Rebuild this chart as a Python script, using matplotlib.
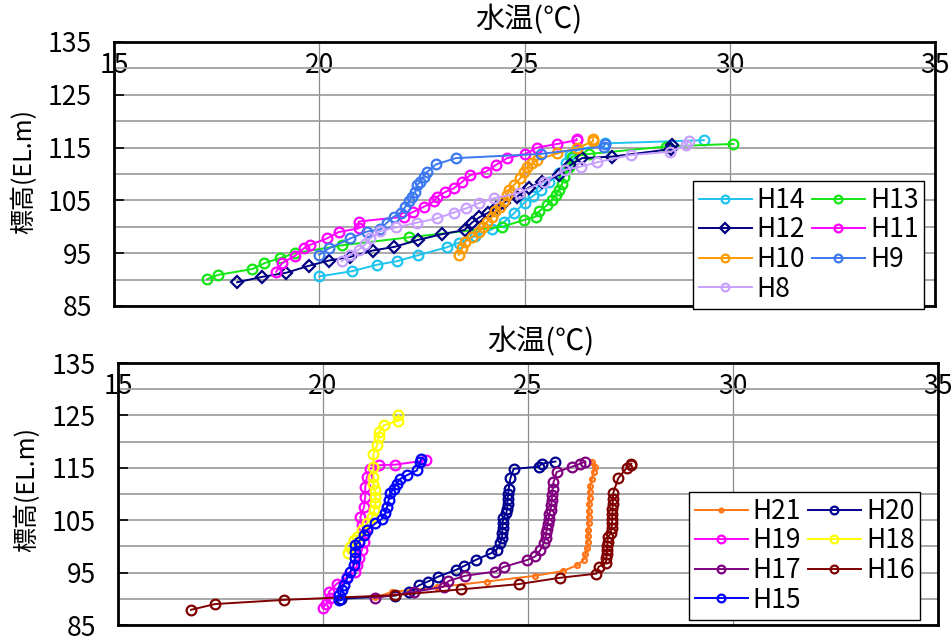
import matplotlib
matplotlib.use("Agg")
import matplotlib.pyplot as plt
from matplotlib.ticker import MultipleLocator, FixedLocator

plt.rcParams['font.family'] = ['Noto Sans CJK JP', 'DejaVu Sans']

# ---------------- data (temperature, elevation) ----------------
# upper chart
H14_t = [20.0, 20.8, 21.4, 21.9, 22.4, 23.1, 23.4, 23.8, 24.2, 24.5, 24.75, 25.0, 25.2, 25.4, 25.6, 25.85, 26.0, 26.12, 26.28, 26.97, 29.37]
H14_e = [90.6, 91.6, 92.8, 93.5, 94.6, 96.1, 97.0, 98.2, 99.5, 100.9, 102.6, 104.6, 105.8, 107.0, 108.5, 110.1, 112.0, 113.6, 114.5, 115.8, 116.4]

H13_t = [17.27, 17.54, 18.37, 18.66, 19.05, 19.41, 20.55, 22.18, 24.46, 24.99, 25.27, 25.35, 25.55, 25.68, 25.76, 25.84, 25.92, 25.96, 26.08, 26.16, 26.57, 28.44, 30.09]
H13_e = [90.1, 90.9, 92.0, 93.1, 94.1, 95.0, 96.5, 98.0, 100.0, 101.3, 101.9, 102.9, 104.1, 105.1, 106.0, 107.0, 108.2, 109.5, 111.4, 113.3, 113.8, 115.2, 115.7]

H12_t = [18.0, 18.6, 19.2, 19.74, 20.23, 20.76, 21.3, 21.83, 22.4, 22.99, 23.54, 23.72, 23.9, 24.1, 24.3, 24.5, 24.82, 25.1, 25.43, 25.84, 26.12, 26.4, 27.14, 28.56, 28.6]
H12_e = [89.5, 90.5, 91.3, 92.6, 93.6, 94.3, 95.5, 96.2, 97.5, 98.6, 99.4, 100.8, 101.8, 102.6, 103.6, 104.6, 105.7, 107.4, 108.5, 109.8, 111.7, 113.0, 113.3, 114.7, 115.4]

H11_t = [18.95, 19.09, 19.41, 19.62, 19.78, 20.19, 20.47, 20.96, 20.96, 22.06, 22.28, 22.55, 22.79, 22.87, 23.07, 23.28, 23.48, 23.68, 24.05, 24.3, 24.58, 25.02, 25.3, 25.8, 26.27, 26.27]
H11_e = [91.5, 93.1, 94.5, 95.9, 96.6, 97.8, 99.0, 99.7, 101.0, 101.9, 102.8, 103.8, 104.8, 105.7, 106.6, 107.3, 108.5, 109.8, 110.4, 111.7, 113.0, 113.8, 115.0, 115.7, 116.4, 116.6]

H10_t = [23.4, 23.48, 23.56, 23.72, 23.88, 24.0, 24.09, 24.21, 24.29, 24.41, 24.5, 24.58, 24.62, 24.74, 24.9, 24.98, 25.07, 25.19, 25.31, 25.8, 26.28, 26.67, 26.67]
H10_e = [94.7, 95.9, 97.2, 98.1, 99.1, 100.0, 101.0, 101.9, 102.9, 103.8, 104.8, 106.0, 107.0, 107.9, 109.2, 110.4, 111.4, 112.0, 112.7, 113.9, 114.9, 116.2, 116.6]

H9_t = [20.0, 20.23, 20.76, 21.16, 21.49, 21.65, 21.81, 21.98, 22.1, 22.18, 22.26, 22.34, 22.38, 22.46, 22.54, 22.63, 22.84, 23.32, 25.39, 26.93, 26.97]
H9_e = [94.7, 95.9, 97.8, 99.1, 99.5, 100.8, 101.9, 102.7, 103.8, 104.8, 105.7, 106.6, 107.9, 108.5, 109.5, 110.4, 111.8, 113.0, 113.8, 115.2, 115.7]

H8_t = [20.55, 20.76, 20.96, 21.12, 21.24, 21.49, 21.88, 22.39, 22.87, 23.28, 23.58, 23.89, 24.25, 24.86, 25.47, 25.99, 26.37, 26.76, 27.59, 28.55, 28.93, 29.0]
H8_e = [93.5, 94.7, 95.7, 96.7, 97.8, 99.2, 99.9, 100.8, 101.6, 102.7, 103.5, 104.5, 105.4, 106.4, 108.5, 110.8, 111.4, 112.2, 113.6, 114.2, 115.5, 116.3]

# lower chart
H21_t = [21.28, 21.68, 22.78, 24.0, 25.18, 25.85, 26.2, 26.36, 26.4, 26.45, 26.46, 26.47, 26.47, 26.48, 26.48, 26.48, 26.49, 26.5, 26.5, 26.52, 26.56, 26.6, 26.64, 26.56]
H21_e = [90.3, 91.3, 92.2, 93.3, 94.4, 95.3, 96.4, 97.5, 98.5, 99.6, 100.8, 102.0, 103.2, 104.4, 105.6, 106.8, 108.0, 109.2, 110.4, 111.6, 112.9, 114.2, 115.2, 116.1]

H20_t = [20.45, 21.76, 22.09, 22.35, 22.56, 22.8, 23.24, 23.45, 23.72, 24.1, 24.24, 24.32, 24.37, 24.37, 24.38, 24.38, 24.4, 24.47, 24.49, 24.5, 24.5, 24.52, 24.53, 24.57, 24.65, 25.26, 25.34, 25.67]
H20_e = [90.0, 90.6, 91.3, 92.6, 93.3, 94.2, 95.5, 96.3, 97.4, 98.7, 99.4, 100.6, 101.6, 102.6, 103.6, 104.5, 105.4, 106.3, 107.2, 108.1, 109.0, 110.0, 111.0, 113.0, 114.8, 115.2, 115.8, 116.2]

H19_t = [20.0, 20.08, 20.18, 20.14, 20.34, 20.59, 20.79, 20.83, 20.87, 20.95, 21.0, 21.03, 20.95, 20.91, 21.0, 21.03, 21.03, 21.07, 21.15, 21.36, 21.76, 22.5]
H19_e = [88.2, 89.1, 90.1, 91.3, 92.9, 94.2, 95.2, 96.4, 97.7, 99.3, 100.9, 102.5, 104.0, 105.6, 107.5, 109.4, 111.3, 113.2, 114.8, 115.5, 115.6, 116.4]

H18_t = [20.62, 20.67, 20.75, 20.83, 20.95, 21.07, 21.2, 21.25, 21.28, 21.28, 21.26, 21.23, 21.23, 21.23, 21.23, 21.32, 21.36, 21.36, 21.48, 21.84, 21.84]
H18_e = [98.7, 99.9, 101.2, 101.8, 103.1, 104.4, 105.6, 106.9, 108.2, 109.5, 110.7, 112.0, 113.2, 115.2, 117.7, 119.3, 120.9, 121.8, 123.1, 124.0, 125.0]

H17_t = [21.26, 22.21, 22.94, 23.06, 23.47, 24.2, 24.41, 24.98, 25.18, 25.3, 25.38, 25.43, 25.44, 25.46, 25.48, 25.5, 25.52, 25.55, 25.57, 25.58, 25.59, 25.6, 25.62, 25.7, 26.07, 26.28, 26.4]
H17_e = [90.2, 91.3, 92.3, 93.4, 94.4, 95.2, 96.1, 97.4, 98.1, 99.3, 100.6, 101.6, 102.5, 103.4, 104.3, 105.2, 106.1, 107.0, 107.9, 108.9, 109.9, 111.0, 112.2, 114.2, 115.2, 115.8, 116.2]

H16_t = [16.78, 17.37, 19.06, 21.76, 23.37, 24.77, 25.77, 26.67, 26.72, 26.9, 26.91, 26.92, 26.92, 26.93, 26.94, 26.95, 27.02, 27.04, 27.05, 27.05, 27.06, 27.06, 27.07, 27.07, 27.08, 27.2, 27.41, 27.5, 27.52]
H16_e = [87.9, 89.0, 89.8, 90.7, 91.8, 92.8, 94.0, 94.8, 96.1, 96.9, 97.7, 98.5, 99.3, 100.1, 100.9, 101.7, 102.6, 103.5, 104.4, 105.3, 106.2, 107.1, 108.0, 109.1, 110.2, 113.0, 115.0, 115.5, 115.8]

H15_t = [20.38, 20.4, 20.46, 20.5, 20.59, 20.67, 20.75, 20.79, 20.79, 20.79, 20.87, 20.99, 21.07, 21.28, 21.44, 21.52, 21.56, 21.6, 21.64, 21.72, 21.8, 21.89, 22.05, 22.29, 22.37, 22.39]
H15_e = [89.8, 90.7, 91.7, 92.6, 93.9, 95.2, 96.4, 97.7, 99.0, 100.2, 100.9, 102.1, 103.1, 104.4, 105.3, 106.3, 107.5, 108.8, 110.1, 111.0, 112.0, 112.9, 113.6, 114.5, 116.1, 116.6]

X_TICKS = [15, 20, 25, 30, 35]
Y_TICKS = [85, 95, 105, 115, 125, 135]

top_series = [
    ("H14", H14_t, H14_e, "#1EC3F0", "o", 7),
    ("H13", H13_t, H13_e, "#14E614", "o", 7),
    ("H12", H12_t, H12_e, "#000080", "D", 6),
    ("H11", H11_t, H11_e, "#FF00FF", "o", 7),
    ("H10", H10_t, H10_e, "#FF9A00", "o", 7),
    ("H9", H9_t, H9_e, "#3C78F0", "o", 7),
    ("H8", H8_t, H8_e, "#C8A0FF", "o", 7),
]
bottom_series = [
    ("H21", H21_t, H21_e, "#FF7518", "o", 3.5),
    ("H20", H20_t, H20_e, "#000090", "o", 7),
    ("H19", H19_t, H19_e, "#FF00FF", "o", 7),
    ("H18", H18_t, H18_e, "#FFFF00", "o", 7),
    ("H17", H17_t, H17_e, "#800080", "o", 7),
    ("H16", H16_t, H16_e, "#800000", "o", 7),
    ("H15", H15_t, H15_e, "#0000FF", "o", 7),
]

W, H = 953, 642
fig = plt.figure(figsize=(W / 100, H / 100), dpi=100)

def px_axes(l, t, r, b):
    return fig.add_axes([l / W, 1 - b / H, (r - l) / W, (b - t) / H])

def style(ax, series, legend_corner):
    handles = {}
    for name, t, e, c, m, ms in series:
        ln, = ax.plot(t, e, color=c, lw=1.4, marker=m, ms=ms, mfc='none',
                      mec=c, mew=1.6, label=name, zorder=3)
        handles[name] = ln
    ax.set_xlim(15, 35)
    ax.set_ylim(85, 135)
    ax.xaxis.set_major_locator(FixedLocator(X_TICKS))
    ax.yaxis.set_major_locator(FixedLocator(Y_TICKS))
    ax.yaxis.set_minor_locator(MultipleLocator(5))
    ax.xaxis.tick_top()
    ax.tick_params(axis='x', which='both', length=0, pad=-27, labelsize=19)
    ax.tick_params(axis='y', which='major', direction='in', length=7, width=1.2,
                   pad=16, labelsize=19)
    ax.tick_params(axis='y', which='minor', length=0)
    ax.grid(axis='y', which='both', color='#A0A0A0', lw=1.3, zorder=1)
    ax.grid(axis='x', which='major', color='#8C8C8C', lw=0.9, zorder=1)
    for s in ax.spines.values():
        s.set_linewidth(2.0)
        s.set_color('black')
        s.set_zorder(5)
    # Excel fills legend row-wise; matplotlib fills column-wise
    names = [s[0] for s in series]
    order = names[0::2] + names[1::2]
    lx0, ly0 = legend_corner
    leg = ax.legend([handles[n] for n in order], order, ncol=2,
                    loc='upper left',
                    bbox_to_anchor=(lx0 / W, 1 - ly0 / H),
                    bbox_transform=fig.transFigure,
                    fontsize=19, frameon=True, fancybox=False, framealpha=1,
                    edgecolor='black', handlelength=2.0, handletextpad=0.2,
                    columnspacing=0.25, labelspacing=0.1, borderpad=0.22,
                    borderaxespad=0, markerscale=0.8)
    leg.get_frame().set_linewidth(1.0)
    leg.set_zorder(6)

ax1 = px_axes(114, 42, 935, 306)
style(ax1, top_series, (693, 181))
ax2 = px_axes(118, 363, 938, 625)
style(ax2, bottom_series, (689, 492))

fig.text(529 / W, 1 - 20 / H, "水温(℃)", ha='center', va='center', fontsize=21)
fig.text(541 / W, 1 - 342 / H, "水温(℃)", ha='center', va='center', fontsize=21)
fig.text(24 / W, 1 - 171 / H, "標高(EL.m)", ha='center', va='center', rotation=90, fontsize=18)
fig.text(27 / W, 1 - 490 / H, "標高(EL.m)", ha='center', va='center', rotation=90, fontsize=18)

fig.savefig("out.png", dpi=100, facecolor='white')
